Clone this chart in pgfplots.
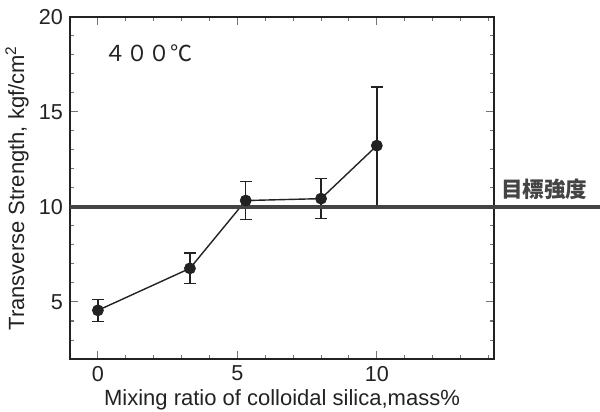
\documentclass[border=0pt]{standalone}
\usepackage{pgfplots}
\pgfplotsset{compat=1.18}
\usepackage{fontspec}
\setmainfont{Liberation Sans}
\newfontfamily\cjk{Noto Sans CJK JP}
\definecolor{ink}{HTML}{222222}
\definecolor{target}{HTML}{444444}

\begin{document}
\begin{tikzpicture}
\begin{axis}[
  at={(0,0)}, anchor=south west,
  scale only axis, width=212pt, height=171pt,
  xmin=-1, xmax=14.2, ymin=2, ymax=20,
  xtick={0,5,10}, ytick={5,10,15,20},
  minor xtick={-1,1,2,3,4,6,7,8,9,11,12,13,14},
  minor ytick={3,4,6,7,8,9,11,12,13,14,16,17,18,19},
  tick align=inside,
  major tick length=4pt, minor tick length=2pt,
  every tick/.style={black!55, line width=0.5pt},
  axis line style={ink, line width=0.75pt},
  tick label style={font=\fontsize{10.8}{12}\selectfont, text=ink},
  label style={font=\fontsize{11}{12}\selectfont, text=ink},
  /pgf/number format/assume math mode=true,
  xlabel={Mixing ratio of colloidal silica,mass\%},
  ylabel={Transverse Strength, kgf/cm\textsuperscript{2}},
  xlabel style={at={(axis description cs:0.5,-0.12)}, anchor=center},
  ylabel style={at={(axis description cs:-0.125,0.5)}, anchor=center},
  clip=false,
]
% measured points with standard deviation
\addplot[ink, line width=0.7pt, mark=*, mark size=2.6pt,
  error bars/.cd, y dir=both, y explicit,
  error bar style={line width=0.7pt},
  error mark options={rotate=90, mark size=3pt, line width=0.7pt}]
  coordinates {
  (0,4.56) +- (0,0.58)
  (3.3,6.77) +- (0,0.81)
  (5.3,10.34) +- (0,1.0)
  (8,10.44) +- (0,1.06)
  (10,13.23) += (0,3.09) -= (0,3.2)
};
% target strength line
\addplot[target, line width=1.8pt] coordinates {(-1,10) (18.5,10)};
\node[anchor=west, font=\cjk\fontsize{11}{12}\selectfont, text=ink]
  at (axis cs:0.0,18.1) {４００℃};
\node[anchor=west, font=\cjk\bfseries\fontsize{10.8}{12}\selectfont, text=target]
  at (axis cs:14.2,10.93) {目標強度};
\end{axis}
\pgfresetboundingbox
\useasboundingbox (-35pt,-26.5pt) rectangle (265pt,179.5pt);
\end{tikzpicture}
\end{document}
